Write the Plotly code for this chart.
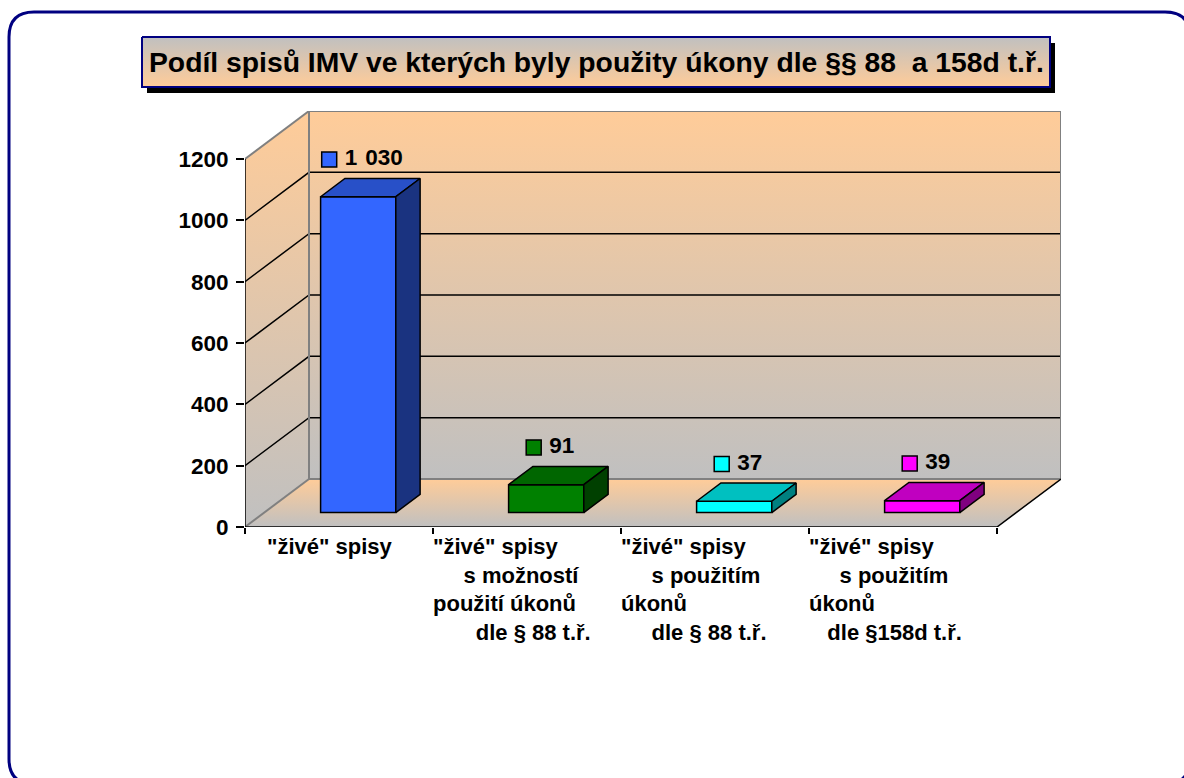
import plotly.graph_objects as go

# ---------------- data ----------------
category_lines = [
    ['"živé" spisy'],
    ['"živé" spisy', '     s možností', 'použití úkonů', '       dle § 88 t.ř.'],
    ['"živé" spisy', '     s použitím', 'úkonů', '     dle § 88 t.ř.'],
    ['"živé" spisy', '     s použitím', 'úkonů', '   dle §158d t.ř.'],
]
values = [1030, 91, 37, 39]
y_ticks = [0, 200, 400, 600, 800, 1000, 1200]
title_text = "Podíl spisů IMV ve kterých byly použity úkony dle §§ 88  a 158d t.ř."

# ---------------- styles ----------------
front_colors = ['#3366FF', '#008000', '#00FFFF', '#FF00FF']
top_colors = ['#2850C8', '#006600', '#00C0C0', '#C000C0']
side_colors = ['#1A3380', '#004000', '#008080', '#800080']
label_xshift = [20, -2, -2, -2]
FONT = "Liberation Sans, Arial, sans-serif"
PEACH = '#FFCC99'
SILVER = '#C0C0C0'
WALL_EDGE = '#808080'

W, H = 1184, 778
PAD = 0                          # page margin is removed below, figure fills the window


def px_x(p):  # screen pixel -> paper fraction
    return (p - PAD) / W


def px_y(p):
    return 1 - (p - PAD) / H


X0_PX, Y0_PX = 245, 527          # front-left origin of the plot (screen pixels)
PX_X = 188.0                     # pixels per category
YMAX = 1200
PX_Y = 368.0 / YMAX              # pixels per value unit
DX = 64 / PX_X                   # depth offset in x units
DY = 48 / PX_Y                   # depth offset in value units
F0, FD, BW = 0.30, 0.38, 0.40    # bar front depth, bar depth, bar width

xr = [-0.5, 3.5 + DX]
yr = [0, YMAX + DY]
xdom = [px_x(X0_PX), px_x(X0_PX + (xr[1] - xr[0]) * PX_X)]
ydom = [px_y(Y0_PX), px_y(Y0_PX - yr[1] * PX_Y)]

fig = go.Figure()

# ---------------- walls (base subplot) ----------------
grad = dict(type='vertical', colorscale=[[0, SILVER], [1, PEACH]])
walls = [
    ([-0.5, 3.5, 3.5 + DX, -0.5 + DX, -0.5], [0, 0, DY, DY, 0]),
    ([-0.5, -0.5, -0.5 + DX, -0.5 + DX, -0.5], [0, YMAX, YMAX + DY, DY, 0]),
    ([-0.5 + DX, 3.5 + DX, 3.5 + DX, -0.5 + DX, -0.5 + DX], [DY, DY, YMAX + DY, YMAX + DY, DY]),
]
for wx, wy in walls:
    fig.add_trace(go.Scatter(x=wx, y=wy, mode='lines', fill='toself', fillgradient=grad,
                             line=dict(width=0), hoverinfo='skip', showlegend=False))

# gridlines
gx, gy = [], []
for v in y_ticks:
    if 0 < v < YMAX:
        gx += [-0.5, -0.5 + DX, 3.5 + DX, None]
        gy += [v, v + DY, v + DY, None]
fig.add_trace(go.Scatter(x=gx, y=gy, mode='lines', line=dict(color='black', width=1.5),
                         hoverinfo='skip', showlegend=False, cliponaxis=False))
# wall borders (grey)
ex = [-0.5 + DX, 3.5 + DX, 3.5 + DX, -0.5 + DX, -0.5 + DX, None,
      -0.5, -0.5 + DX, None, -0.5, -0.5 + DX]
ey = [DY, DY, YMAX + DY, YMAX + DY, DY, None,
      YMAX, YMAX + DY, None, 0, DY]
fig.add_trace(go.Scatter(x=ex, y=ey, mode='lines', line=dict(color=WALL_EDGE, width=2),
                         hoverinfo='skip', showlegend=False, cliponaxis=False))
# axis lines (black)
ax_x = [-0.5, -0.5, None, -0.5, 3.5, 3.5 + DX]
ax_y = [YMAX, 0, None, 0, 0, DY]
fig.add_trace(go.Scatter(x=ax_x, y=ax_y, mode='lines', line=dict(color='black', width=1.5),
                         hoverinfo='skip', showlegend=False, cliponaxis=False))

# ---------------- bars (overlay subplot) ----------------
cx = [i + F0 * DX for i in range(len(values))]
base = F0 * DY
fig.add_trace(go.Bar(x=cx, y=values, base=base, width=BW,
                     marker=dict(color=front_colors, line=dict(color='black', width=1.5)),
                     xaxis='x3', yaxis='y3', hoverinfo='skip', showlegend=False))
for i, v in enumerate(values):
    xl, xrr = cx[i] - BW / 2, cx[i] + BW / 2
    top = base + v
    ddx, ddy = FD * DX, FD * DY
    fig.add_trace(go.Scatter(
        x=[xl, xrr, xrr + ddx, xl + ddx, xl], y=[top, top, top + ddy, top + ddy, top],
        mode='lines', fill='toself', fillcolor=top_colors[i], line=dict(color='black', width=1.5),
        xaxis='x3', yaxis='y3', hoverinfo='skip', showlegend=False, cliponaxis=False))
    fig.add_trace(go.Scatter(
        x=[xrr, xrr, xrr + ddx, xrr + ddx, xrr], y=[base, top, top + ddy, base + ddy, base],
        mode='lines', fill='toself', fillcolor=side_colors[i], line=dict(color='black', width=1.5),
        xaxis='x3', yaxis='y3', hoverinfo='skip', showlegend=False, cliponaxis=False))

# data labels: legend key + value
def fmt(v):
    return f"{v:,}".replace(",", " ")

SQ = 15
sq_x, sq_y, tx_x, texts = [], [], [], []
for i, v in enumerate(values):
    s = fmt(v)
    tw = sum(8.0 if c == ' ' else 12.5 for c in s)
    total = SQ + 8 + tw
    center_px = cx[i] * PX_X + 4
    left_px = center_px - total / 2
    sq_x.append((left_px + SQ / 2) / PX_X)
    tx_x.append((left_px + SQ + 8) / PX_X)
    sq_y.append(base + v + FD * DY + 19 / PX_Y)
    texts.append(s.replace(' ', '\u00a0\u200a'))
fig.add_trace(go.Scatter(x=sq_x, y=sq_y, mode='markers',
                         marker=dict(symbol='square', size=SQ, color=front_colors,
                                     line=dict(color='black', width=1.5)),
                         xaxis='x3', yaxis='y3', hoverinfo='skip', showlegend=False, cliponaxis=False))
fig.add_trace(go.Scatter(x=tx_x, y=sq_y, mode='text', text=texts, textposition='middle right',
                         textfont=dict(family=FONT, size=22.5, color='black', weight='bold'),
                         xaxis='x3', yaxis='y3', hoverinfo='skip', showlegend=False, cliponaxis=False))

# ---------------- title box (pixel overlay, screen coordinates) ----------------
TB = dict(x0=142, x1=1050, y0=37, y1=87)
fig.add_trace(go.Scatter(
    x=[TB['x0'], TB['x1'], TB['x1'], TB['x0'], TB['x0']],
    y=[TB['y0'], TB['y0'], TB['y1'], TB['y1'], TB['y0']],
    mode='lines', fill='toself',
    fillgradient=dict(type='vertical', colorscale=[[0, PEACH], [1, SILVER]]),
    line=dict(color='#000080', width=2), xaxis='x2', yaxis='y2',
    hoverinfo='skip', showlegend=False, cliponaxis=False))

shapes = [
    dict(type='rect', xref='x2', yref='y2', x0=TB['x0'] + 5, x1=TB['x1'] + 5,
         y0=TB['y0'] + 6, y1=TB['y1'] + 6, fillcolor='black', line=dict(width=0), layer='below'),
    dict(type='path', xref='x2', yref='y2',
         path='M 9,37 Q 9,12 34,12 L 1165,12 Q 1190,12 1190,37 L 1190,759 '
              'Q 1190,784 1165,784 L 34,784 Q 9,784 9,759 Z',
         line=dict(color='#000080', width=3), layer='above'),
]

annotations = [dict(text=title_text, xref='x2', yref='y2', x=(TB['x0'] + TB['x1']) / 2,
                    y=(TB['y0'] + TB['y1']) / 2, xanchor='center', yanchor='middle',
                    showarrow=False, font=dict(family=FONT, size=28.3, color='black', weight='bold'))]
for i, lines in enumerate(category_lines):
    txt = '<br>'.join((len(l) - len(l.lstrip(' '))) * '\u00a0' + l.lstrip(' ') for l in lines)
    annotations.append(dict(text=txt, xref='x', yref='y', x=i - 0.5, y=0,
                            xanchor='left', yanchor='top', align='left',
                            xshift=label_xshift[i], yshift=-5, showarrow=False,
                            font=dict(family=FONT, size=22, color='black', weight='bold')))

fig.update_layout(
    width=W, height=H, margin=dict(l=0, r=0, t=0, b=0, pad=0, autoexpand=False),
    paper_bgcolor='white', plot_bgcolor='rgba(0,0,0,0)',
    showlegend=False, barmode='overlay',
    font=dict(family=FONT, color='black'),
    xaxis=dict(domain=xdom, range=xr, tickvals=[-0.5, 0.5, 1.5, 2.5, 3.5],
               ticktext=[''] * 5, ticks='outside', ticklen=6, tickwidth=1.5, tickcolor='black',
               showgrid=False, zeroline=False, showline=False, fixedrange=True, automargin=False),
    yaxis=dict(domain=ydom, range=yr, tickvals=y_ticks, ticks='outside', ticklen=8,
               tickwidth=1.5, tickcolor='black', showgrid=False, zeroline=False, showline=False,
               tickfont=dict(family=FONT, size=22.5, color='black', weight='bold'),
               ticklabelstandoff=3, fixedrange=True, automargin=False),
    xaxis3=dict(overlaying='x', matches='x', range=xr, visible=False, automargin=False),
    yaxis3=dict(overlaying='y', matches='y', range=yr, visible=False, automargin=False),
    xaxis2=dict(domain=[0, 1], range=[PAD, PAD + W], anchor='y2', visible=False,
                fixedrange=True, automargin=False),
    yaxis2=dict(domain=[0, 1], range=[PAD + H, PAD], anchor='x2', visible=False,
                fixedrange=True, automargin=False),
    shapes=shapes, annotations=annotations,
)

fig.write_html("out.html", config={'displayModeBar': False},
               post_script="document.body.style.margin='0px'; document.body.style.overflow='hidden';")
